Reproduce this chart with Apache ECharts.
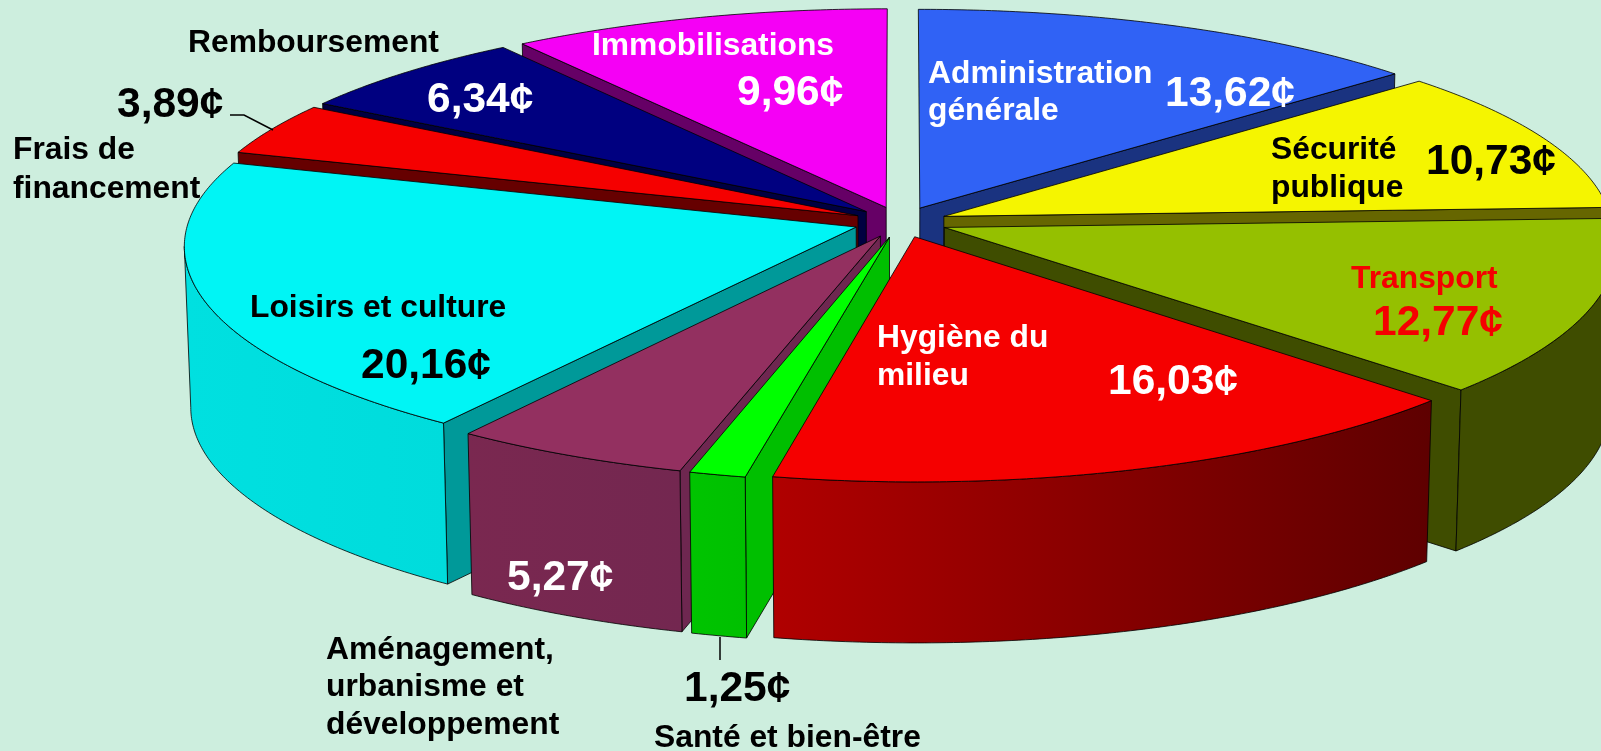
<!DOCTYPE html>
<html>
<head>
<meta charset="utf-8">
<style>html,body{margin:0;padding:0;background:#cdeede}#chart{width:1601px;height:751px}</style>
<script src="https://cdn.jsdelivr.net/npm/echarts@6/dist/echarts.min.js"></script>
</head>
<body>
<div id="chart"></div>
<script>
// data, clockwise from 12 o'clock
const categories = ['Administration générale', 'Sécurité publique', 'Transport', 'Hygiène du milieu', 'Santé et bien-être',
  'Aménagement, urbanisme et développement', 'Loisirs et culture', 'Frais de financement', 'Remboursement', 'Immobilisations']
const values = [13.62, 10.73, 12.77, 16.03, 1.25, 5.27, 20.16, 3.89, 6.34, 9.96]

// colours
const topColors = ['#3062f5', '#f5f500', '#95c000', '#f50000', '#00ff00', '#933060', '#00f5f5', '#f50000', '#000080', '#f500f5']
const edgeColors = ['#1a3380', '#666600', '#3f4d00', '#7a0000', '#00bf00', '#6e2750', '#009999', '#660000', '#000040', '#660066']
const wallLeft = ['#1a3380', '#666600', '#3f4d00', '#b00000', '#00c400', '#7a2850', '#00e0e0', '#660000', '#000040', '#660066']
const wallRight = ['#1a3380', '#666600', '#3f4d00', '#5e0000', '#00c000', '#732750', '#00dcdc', '#660000', '#000040', '#660066']

// back slices first, each slice may cover the ones before it
const paintOrder = [9, 0, 8, 7, 1, 2, 6, 5, 4, 3]

// labels: [text lines, left, first line middle, line gap, colour]
const nameLabels = [
  [['Administration', 'générale'], 928, 74.5, 37, '#fff'],
  [['Sécurité', 'publique'], 1271, 150, 38, '#000'],
  [['Transport'], 1351, 279, 0, '#f50000'],
  [['Hygiène du', 'milieu'], 877, 338, 38, '#fff'],
  [['Santé et bien-être'], 654, 738, 0, '#000'],
  [['Aménagement,', 'urbanisme et', 'développement'], 326, 650, 37.5, '#000'],
  [['Loisirs et culture'], 250, 308, 0, '#000'],
  [['Frais de', 'financement'], 13, 150, 39, '#000'],
  [['Remboursement'], 188, 43, 0, '#000'],
  [['Immobilisations'], 592, 46, 0, '#fff']
]
const valueLabels = [
  [1165, 94, '#fff'], [1426, 162, '#000'], [1373, 323, '#f50000'], [1108, 382, '#fff'], [684, 689, '#000'],
  [507, 578, '#fff'], [361, 366, '#000'], [117, 105, '#000'], [427, 100, '#fff'], [737, 93, '#fff']
]
// leader lines
const leaders = [
  [[230, 115], [244, 115], [273, 130]],
  [[720, 637], [720, 660]]
]

// projection of the tilted pie
const cx = 900.5, cy = 222
const radiusX = 668, radiusY = 219.6
const perspX = 0.0825, perspY = 0.0925
const explode = 0.07
const wallH = 161
const total = values.reduce((a, b) => a + b, 0)

function project(x, z, down) {
  let sx = cx + radiusX * x / (1 - perspX * z)
  let sy = cy + radiusY * z / (1 - perspY * z)
  if (down) {
    sx = cx + (sx - cx) * 0.991
    sy += wallH
  }
  return [sx, sy]
}

// rows for the series: value, running total, slice index
let cum = 0
const rowsBySlice = values.map((v, i) => {
  const row = [v, cum, i]
  cum += v
  return row
})
const rows = paintOrder.map(i => rowsBySlice[i])

function renderSlice(params, api) {
  const v = api.value(0), start = api.value(1), idx = api.value(2)
  const a0 = start / total * Math.PI * 2
  const a1 = (start + v) / total * Math.PI * 2
  const mid = (a0 + a1) / 2
  const ox = explode * Math.sin(mid), oz = -explode * Math.cos(mid)
  const pt = (a, down) => project(ox + Math.sin(a), oz - Math.cos(a), down)
  const apex = down => project(ox, oz, down)
  const line = { stroke: 'rgba(0,0,0,0.8)', lineWidth: 1, lineJoin: 'round' }
  const children = []

  const addEdge = a => {
    children.push({
      type: 'polygon',
      shape: { points: [apex(false), pt(a, false), pt(a, true), apex(true)] },
      style: { fill: edgeColors[idx], ...line }
    })
  }
  // only the cut faces turned to the viewer
  const vx = -ox, vz = 1 / perspY - oz
  if (-Math.cos(a0) * vx - Math.sin(a0) * vz > 0.05) addEdge(a0)
  if (Math.cos(a1) * vx + Math.sin(a1) * vz > 0.05) addEdge(a1)

  // outer wall, front part only
  const wa = Math.max(a0, 95 * Math.PI / 180), wb = Math.min(a1, 265 * Math.PI / 180)
  if (wb > wa) {
    const topArc = [], botArc = []
    const n = Math.ceil((wb - wa) / 0.01)
    for (let k = 0; k <= n; k++) {
      const a = wa + (wb - wa) * k / n
      topArc.push(pt(a, false))
      botArc.unshift(pt(a, true))
    }
    children.push({
      type: 'polygon',
      shape: { points: topArc.concat(botArc) },
      style: {
        fill: new echarts.graphic.LinearGradient(0, 0, 1, 0, [
          { offset: 0, color: wallLeft[idx] },
          { offset: 1, color: wallRight[idx] }
        ]),
        ...line
      }
    })
  }

  // top face
  const topPts = [apex(false)]
  const m = Math.ceil((a1 - a0) / 0.01)
  for (let k = 0; k <= m; k++) topPts.push(pt(a0 + (a1 - a0) * k / m, false))
  children.push({
    type: 'polygon',
    shape: { points: topPts },
    style: { fill: topColors[idx], ...line }
  })
  return { type: 'group', children }
}

// text and leader lines
const graphics = []
nameLabels.forEach(([lines, x, y, gap, color]) => {
  lines.forEach((t, k) => {
    graphics.push({
      type: 'text', x, y: y + k * gap, z: 10,
      style: { text: t, fill: color, font: 'bold 31.8px "Liberation Sans"', textVerticalAlign: 'middle' }
    })
  })
})
valueLabels.forEach(([x, y, color], i) => {
  graphics.push({
    type: 'text', x, y, z: 10,
    style: {
      text: values[i].toFixed(2).replace('.', ',') + '¢',
      fill: color, font: 'bold 42.5px "Liberation Sans"', textVerticalAlign: 'middle'
    }
  })
})
leaders.forEach(points => {
  graphics.push({
    type: 'polyline', z: 10,
    shape: { points },
    style: { stroke: '#000', lineWidth: 1.5, fill: null }
  })
})

const myChart = echarts.init(document.getElementById('chart'))
const option = {
  backgroundColor: '#cdeede',
  animation: false,
  series: [{
    type: 'custom',
    coordinateSystem: 'none',
    renderItem: renderSlice,
    data: rows
  }],
  graphic: { elements: graphics }
}
myChart.setOption(option)
</script>
</body>
</html>
